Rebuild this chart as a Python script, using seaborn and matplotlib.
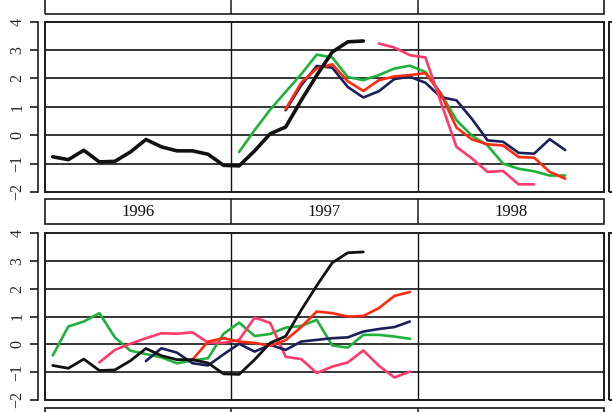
import numpy as np
import pandas as pd
import matplotlib
matplotlib.use("Agg")
import matplotlib.pyplot as plt
from matplotlib.patches import Rectangle
import seaborn as sns

# ---------------- data (month index 0 = Jan 1996) ----------------
years = ["1996", "1997", "1998"]
y_ticks = [-2, -1, 0, 1, 2, 3, 4]

black_start = 0
black = [-0.76, -0.86, -0.53, -0.94, -0.92, -0.59, -0.15, -0.41, -0.55, -0.55,
         -0.67, -1.06, -1.08, -0.55, 0.05, 0.29, 1.23, 2.11, 2.93, 3.29, 3.32]

# upper panel
top_green_start = 12
top_green = [-0.59, 0.18, 0.9, 1.53, 2.15, 2.84, 2.74, 2.05, 1.94, 2.12, 2.35,
             2.45, 2.23, 1.47, 0.53, -0.02, -0.36, -1.0, -1.18, -1.27, -1.42, -1.42]
top_navy_start = 15
top_navy = [0.88, 1.76, 2.44, 2.38, 1.7, 1.33, 1.55, 1.98, 2.06, 1.85, 1.34,
            1.23, 0.57, -0.18, -0.23, -0.62, -0.65, -0.14, -0.52]
top_red_start = 15
top_red = [0.92, 1.85, 2.35, 2.5, 1.9, 1.56, 1.94, 2.07, 2.12, 2.19, 1.45,
           0.27, -0.15, -0.32, -0.36, -0.77, -0.79, -1.29, -1.53]
top_pink_start = 21
top_pink = [3.23, 3.09, 2.82, 2.74, 1.15, -0.41, -0.82, -1.29, -1.26, -1.73, -1.73]

# lower panel
bot_green_start = 0
bot_green = [-0.4, 0.64, 0.82, 1.12, 0.25, -0.23, -0.35, -0.47, -0.68, -0.58,
             -0.5, 0.38, 0.78, 0.3, 0.37, 0.6, 0.66, 0.88, -0.04, -0.12, 0.34,
             0.34, 0.28, 0.2]
bot_pink_start = 3
bot_pink = [-0.65, -0.2, 0.02, 0.22, 0.4, 0.38, 0.43, 0.06, 0.05, 0.16, 0.96,
            0.77, -0.45, -0.53, -1.03, -0.8, -0.65, -0.22, -0.77, -1.19, -0.98]
bot_navy_start = 6
bot_navy = [-0.6, -0.14, -0.3, -0.68, -0.76, -0.36, 0.02, -0.26, -0.02, -0.2,
            0.1, 0.16, 0.22, 0.25, 0.46, 0.55, 0.62, 0.82]
bot_red_start = 9
bot_red = [-0.55, 0.1, 0.22, 0.1, 0.05, -0.05, 0.15, 0.62, 1.18, 1.12, 1.0,
           1.02, 1.3, 1.74, 1.88]

colors = {"black": "#111111", "navy": "#1b1f5c", "red": "#ff2a12",
          "green": "#1fb23a", "pink": "#ff3a6a"}


def frame(series):
    rows = []
    for name, start, vals in series:
        for k, v in enumerate(vals):
            rows.append({"series": name, "x": start + k + 0.5, "value": v})
    return pd.DataFrame(rows)


top_df = frame([("green", top_green_start, top_green),
                ("navy", top_navy_start, top_navy),
                ("red", top_red_start, top_red),
                ("pink", top_pink_start, top_pink),
                ("black", black_start, black)])
bot_df = frame([("green", bot_green_start, bot_green),
                ("pink", bot_pink_start, bot_pink),
                ("navy", bot_navy_start, bot_navy),
                ("red", bot_red_start, bot_red),
                ("black", black_start, black)])

# ---------------- style ----------------
sns.set_style("white")
plt.rcParams["font.family"] = ["Liberation Serif", "DejaVu Serif"]

W_PX, H_PX = 612, 412
fig = plt.figure(figsize=(W_PX / 100, H_PX / 100), dpi=100)

L = 45 / W_PX
W = (604 - 45) / W_PX


def fy(top_px, bottom_px):
    return [L, 1 - bottom_px / H_PX, W, (bottom_px - top_px) / H_PX]


EDGE = "#1a1a1a"


def border(ax, lw=1.4):
    ax.add_patch(Rectangle((0, 0), 1, 1, transform=ax.transAxes, fill=False,
                           ec=EDGE, lw=lw, clip_on=False, zorder=10))


def panel(ax, df, black_lw):
    ax.set_xlim(0, 36)
    ax.set_ylim(-2, 4)
    for y in [-1, 0, 1, 2, 3]:
        ax.axhline(y, color="#262626", lw=1.3, zorder=1)
    for xv in [12, 24]:
        ax.axvline(xv, color="#111111", lw=1.0, zorder=1)
    for name in df["series"].unique():
        sub = df[df["series"] == name]
        sns.lineplot(data=sub, x="x", y="value", color=colors[name],
                     lw=black_lw if name == "black" else 1.9, ax=ax,
                     legend=False, zorder=3)
    for s in ["top", "right", "bottom"]:
        ax.spines[s].set_visible(False)
    ax.spines["left"].set_position(("outward", 5))
    ax.spines["left"].set_bounds(-2, 4)
    ax.spines["left"].set_color(EDGE)
    ax.spines["left"].set_linewidth(1.2)
    ax.set_yticks(y_ticks)
    ax.set_yticklabels([str(t).replace("-", "\u2212") for t in y_ticks])
    ax.tick_params(axis="y", direction="out", length=6, width=1.2,
                   color=EDGE, pad=3, labelsize=11.5, left=True)
    for lab in ax.get_yticklabels():
        lab.set_rotation(90)
        lab.set_va("center")
    ax.set_xticks([])
    ax.set_xlabel("")
    ax.set_ylabel("")
    border(ax)


def strip(ax, labels=True):
    ax.set_xlim(0, 36)
    ax.set_ylim(0, 1)
    ax.set_xticks([])
    ax.set_yticks([])
    for s in ax.spines.values():
        s.set_visible(False)
    border(ax, lw=1.2)
    for xv in [12, 24]:
        ax.axvline(xv, color=EDGE, lw=1.1)
    if labels:
        for k, yr in enumerate(years):
            ax.text(12 * k + 6, 0.5, yr, ha="center", va="center",
                    fontsize=12, color="#111111")


ax_top = fig.add_axes(fy(21.7, 192))
ax_bot = fig.add_axes(fy(233, 400))
panel(ax_top, top_df, 2.6)
panel(ax_bot, bot_df, 2.0)

strip(fig.add_axes(fy(199, 224)))
strip(fig.add_axes(fy(-12, 14)), labels=False)
strip(fig.add_axes(fy(408, 434)), labels=False)

# neighbouring panels of the next column (cut by the figure edge)
for tp, bp in [(21.7, 192), (233, 400)]:
    nb = fig.add_axes([609 / W_PX, 1 - bp / H_PX, 0.2, (bp - tp) / H_PX])
    nb.set_xticks([])
    nb.set_yticks([])
    for s in nb.spines.values():
        s.set_visible(False)
    border(nb)

fig.savefig("out.png", dpi=100)
